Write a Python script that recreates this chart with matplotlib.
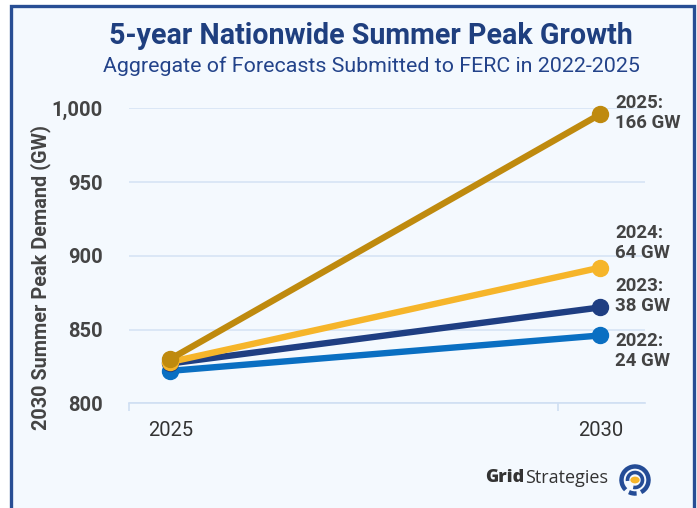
import matplotlib
matplotlib.use("Agg")
import matplotlib.pyplot as plt
from matplotlib.patches import Rectangle, Circle, Arc

years = [2025, 2030]
series_names = ["2022", "2023", "2024", "2025"]
growth_labels = ["24 GW", "38 GW", "64 GW", "166 GW"]
v2022 = [822, 846]
v2023 = [827, 865]
v2024 = [828, 892]
v2025 = [830, 996]
colors = ["#0A6FC2", "#1F3E82", "#F6B52A", "#BF8A0E"]
yticks = [800, 850, 900, 950, 1000]
ytick_labels = ["800", "850", "900", "950", "1,000"]
label_y = [351, 296, 243, 113]  # pixel y (center of two-line label)

W, H = 697, 508
fig = plt.figure(figsize=(W / 100, H / 100), dpi=100)
fig.patch.set_facecolor("white")
bg = "#F4F9FE"
# border box
fig.patches.append(Rectangle((10.5 / W, -0.05), (694 - 10.5) / W, (H - 6.5) / H + 0.05,
                             transform=fig.transFigure, facecolor=bg, edgecolor="#284E94",
                             linewidth=2.4, zorder=-10))

ax = fig.add_axes([129 / W, 1 - 403.3 / H, (645 - 129) / W, (403.3 - 108.3) / H])
ax.set_zorder(5)
ax.set_facecolor("none")
ax.set_xlim(2024.52, 2030.52)
ax.set_ylim(800, 1000)

for s in ["top", "right", "left"]:
    ax.spines[s].set_visible(False)
ax.spines["bottom"].set_color("#CFDFF3")
ax.spines["bottom"].set_linewidth(1.2)

ax.set_yticks(yticks)
ax.set_yticklabels(ytick_labels)
ax.set_xticks(years)
ax.set_xticklabels([str(y) for y in years])
ax.set_xticks([2024.52, 2029.51], minor=True)
ax.tick_params(axis="x", which="major", length=0, pad=13, labelsize=14.5, colors="#333333")
ax.tick_params(axis="x", which="minor", length=6, color="#CFDFF3", width=1.2)
ax.tick_params(axis="y", length=0, pad=19, labelsize=14.5, colors="#444444")
for t in ax.get_yticklabels():
    t.set_fontweight("bold")
    t.set_fontfamily("Roboto")
for t in ax.get_xticklabels():
    t.set_fontfamily("Roboto")
ax.yaxis.grid(True, color="#D6E4F5", linewidth=1.2)
ax.set_axisbelow(True)

data = [v2022, v2023, v2024, v2025]
for vals, c in zip(data, colors):
    ax.plot(years, vals, color=c, linewidth=4.6, marker="o", markersize=11.5,
            solid_capstyle="round", clip_on=False, zorder=3)

for name, g, ly in zip(series_names, growth_labels, label_y):
    fig.text(615 / W, 1 - ly / H, f"{name}:\n{g}", ha="left", va="center",
             fontsize=13.4, fontweight="bold", color="#444444", family="Roboto",
             linespacing=1.2, zorder=6)

fig.text(41 / W, 1 - 277 / H, "2030 Summer Peak Demand (GW)", rotation=90,
         ha="center", va="center", fontsize=14.3, fontweight="bold",
         color="#444444", family="Roboto")

fig.text(371 / W, 1 - 36 / H, "5-year Nationwide Summer Peak Growth", ha="center",
         va="center", fontsize=20.6, fontweight="bold", color="#1F3F7F", family="Roboto")
fig.text(371 / W, 1 - 66 / H, "Aggregate of Forecasts Submitted to FERC in 2022-2025",
         ha="center", va="center", fontsize=15.4, color="#23438A", family="Roboto")

# logo
t1 = fig.text(485 / W, 1 - 478 / H, "Grid", ha="left", va="center", fontsize=13,
              fontweight="heavy", color="#333333", family="Open Sans")
fig.canvas.draw()
bb = t1.get_window_extent()
fig.text(bb.x1 / W + 0.5 / W, 1 - 478 / H, "Strategies", ha="left", va="center",
         fontsize=13, color="#333333", family="Open Sans")
lx, ly0 = 635, 480
fig.patches.append(Arc((lx / W, 1 - ly0 / H), 27 / W, 27 / H, theta1=-70, theta2=235,
                       transform=fig.transFigure, color="#244C96", linewidth=3.2))
fig.patches.append(Arc((lx / W, 1 - ly0 / H), 27 / W, 27 / H, theta1=250, theta2=275,
                       transform=fig.transFigure, color="#244C96", linewidth=3.2))
fig.patches.append(Arc((lx / W, 1 - ly0 / H), 15 / W, 15 / H, theta1=-100, theta2=190,
                       transform=fig.transFigure, color="#244C96", linewidth=2.6))
fig.patches.append(Circle((lx / W, 1 - ly0 / H), 3.4 / H, transform=fig.transFigure,
                          facecolor="#F6B52A", edgecolor="none"))

fig.savefig("out.png", dpi=100, facecolor="white")
